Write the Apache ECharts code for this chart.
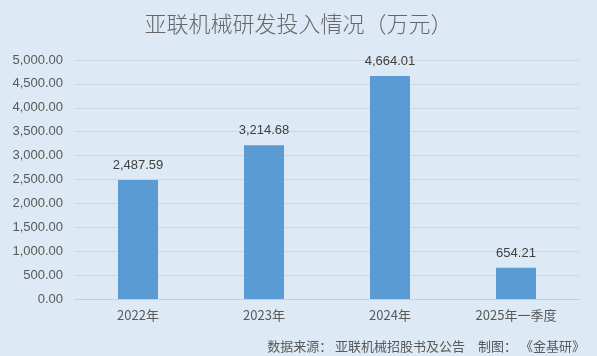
<!DOCTYPE html>
<html><head><meta charset="utf-8">
<script src="https://cdn.jsdelivr.net/npm/echarts@6/dist/echarts.min.js"></script>
<style>html,body{margin:0;padding:0;background:#dde9f5;}#c{width:597px;height:356px;}</style>
</head><body><div id="c"></div>
<script>
const categories = ['2022年', '2023年', '2024年', '2025年一季度'];
const values = [2487.59, 3214.68, 4664.01, 654.21];
const titleText = '亚联机械研发投入情况（万元）';
const sourceText = '数据来源： 亚联机械招股书及公告　制图： 《金基研》';
const fmt = v => Number(v).toLocaleString('en-US', {minimumFractionDigits: 2, maximumFractionDigits: 2});
const chart = echarts.init(document.getElementById('c'));
chart.setOption({
  backgroundColor: '#dde9f5',
  animation: false,
  title: [{
    text: titleText, left: 'center', top: 8,
    textStyle: {fontFamily: 'Noto Sans CJK SC', fontSize: 22, fontWeight: 300, color: '#666666'}
  }, {
    text: sourceText, right: 7, top: 335,
    textStyle: {fontFamily: 'Noto Sans CJK SC', fontSize: 13, fontWeight: 'normal', color: '#595959'}
  }],
  grid: {left: 75, right: 18, top: 60, bottom: 57},
  xAxis: {
    type: 'category', data: categories,
    axisLine: {lineStyle: {color: '#c8ced6'}}, axisTick: {show: false},
    axisLabel: {color: '#595959', fontSize: 13, fontFamily: 'Noto Sans CJK SC', margin: 10}
  },
  yAxis: {
    type: 'value', min: 0, max: 5000, interval: 500,
    axisLine: {show: false}, axisTick: {show: false},
    splitLine: {lineStyle: {color: '#cfd6de'}},
    axisLabel: {color: '#595959', fontSize: 13, fontFamily: 'Liberation Sans', formatter: fmt, margin: 12}
  },
  series: [{
    type: 'bar', data: values, barWidth: 40,
    itemStyle: {color: '#5b9bd5'},
    label: {show: true, position: 'top', distance: 8, color: '#404040', fontSize: 13, fontFamily: 'Liberation Sans', formatter: p => fmt(p.value)}
  }]
});
</script></body></html>
